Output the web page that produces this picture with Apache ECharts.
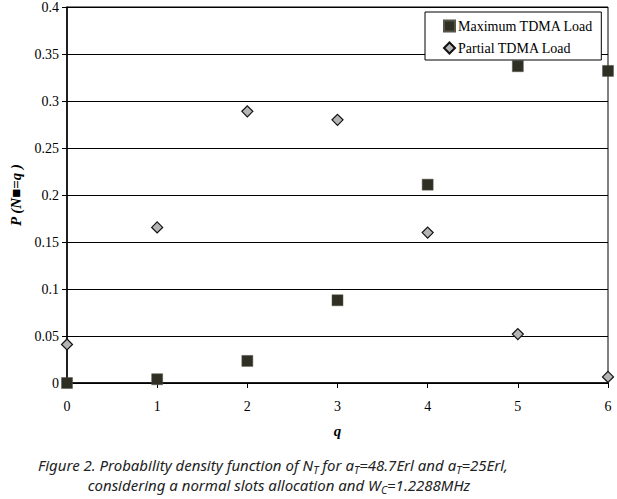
<!DOCTYPE html>
<html>
<head>
<meta charset="utf-8">
<script src="https://cdn.jsdelivr.net/npm/echarts@6/dist/echarts.min.js"></script>
<style>
  html, body { margin: 0; padding: 0; background: #fff; }
  #chart { width: 617px; height: 499px; }
</style>
</head>
<body>
<div id="chart"></div>
<script>
// q values and the two probability series
const q = [0, 1, 2, 3, 4, 5, 6];
const maxLoad = [0.0, 0.004, 0.0235, 0.088, 0.211, 0.337, 0.332];
const partialLoad = [0.041, 0.1655, 0.289, 0.280, 0.160, 0.052, 0.0065];
const yTicks = [0, 0.05, 0.1, 0.15, 0.2, 0.25, 0.3, 0.35, 0.4];

const SERIF = '"Liberation Serif", "Times New Roman", serif';
const CAPTION = '"Noto Sans", "Open Sans", sans-serif';

const c = echarts.init(document.getElementById('chart'), null, { renderer: 'svg' });

const sub = { fontSize: 10.5, fontStyle: 'italic', fontWeight: 'normal', fontFamily: CAPTION, color: '#222', lineHeight: 12, verticalAlign: 'bottom' };
const cap = { fontSize: 15, fontStyle: 'italic', fontWeight: 'normal', fontFamily: CAPTION, color: '#222', lineHeight: 20 };

c.setOption({
  animation: false,
  textStyle: { fontFamily: SERIF, color: '#000' },
  grid: { left: 60, right: 9, top: 6, bottom: 116, show: true, borderColor: '#000', borderWidth: 1, backgroundColor: 'transparent' },
  title: [
    {
      left: 268, top: 450, textAlign: 'center',
      text: '{c|Figure 2. Probability density function of N}{s|T}{c| for a}{s|T}{c|=48.7Erl and a}{s|T}{c|=25Erl,}',
      textStyle: { fontWeight: 'normal', rich: { c: cap, s: sub } },
    },
    {
      left: 274, top: 470, textAlign: 'center',
      text: '{c|considering a normal slots allocation and W}{s|C}{c|=1.2288MHz}',
      textStyle: { fontWeight: 'normal', rich: { c: cap, s: sub } },
    },
  ],
  legend: {
    orient: 'vertical',
    left: 425, top: 12,
    width: 178,
    padding: [7, 8, 5, 18],
    itemGap: 8,
    itemWidth: 11, itemHeight: 11,
    backgroundColor: '#fff',
    borderColor: '#000', borderWidth: 1,
    textStyle: { fontFamily: SERIF, fontSize: 14, color: '#000', padding: [0, 0, 0, -2] },
    data: ['Maximum TDMA Load', 'Partial TDMA Load'],
  },
  xAxis: {
    type: 'value', min: 0, max: 6, interval: 1,
    name: 'q', nameLocation: 'middle', nameGap: 40,
    nameTextStyle: { fontFamily: SERIF, fontSize: 15, fontStyle: 'italic', fontWeight: 'bold', color: '#000' },
    axisLine: { onZero: false, lineStyle: { color: '#000', width: 1.5 } },
    axisTick: { show: true, inside: false, length: 5, lineStyle: { color: '#000' } },
    axisLabel: { color: '#000', fontSize: 14, fontFamily: SERIF, margin: 16 },
    splitLine: { show: false },
  },
  yAxis: {
    type: 'value', min: 0, max: 0.4, interval: 0.05,
    name: 'P (N\u25A0=q )', nameLocation: 'middle', nameGap: 44,
    nameTextStyle: { fontFamily: SERIF, fontSize: 15, fontStyle: 'italic', fontWeight: 'bold', color: '#000' },
    axisLine: { show: true, lineStyle: { color: '#000', width: 1.5 } },
    axisTick: { show: true, length: 5, lineStyle: { color: '#000' } },
    axisLabel: {
      color: '#000', fontSize: 14, fontFamily: SERIF, margin: 8,
      formatter: v => yTicks.find(t => Math.abs(t - v) < 1e-9) !== undefined ? String(+v.toFixed(2)) : '',
    },
    splitLine: { show: true, lineStyle: { color: '#000', width: 1.2 } },
  },
  series: [
    {
      name: 'Maximum TDMA Load',
      type: 'scatter',
      symbol: 'rect', symbolSize: 11,
      itemStyle: { color: '#2f2f24', borderColor: '#55554a', borderWidth: 0.5, opacity: 1 },
      clip: false,
      data: q.map((x, i) => [x, maxLoad[i]]),
      z: 3,
    },
    {
      name: 'Partial TDMA Load',
      type: 'scatter',
      symbol: 'diamond', symbolSize: 11,
      itemStyle: { color: '#b4b4b4', borderColor: '#111', borderWidth: 1.2, opacity: 1 },
      clip: false,
      data: q.map((x, i) => [x, partialLoad[i]]),
      z: 4,
    },
  ],
});
</script>
</body>
</html>
